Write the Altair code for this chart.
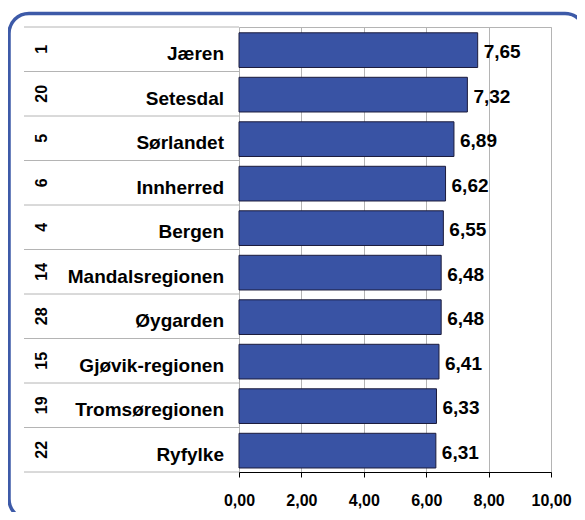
import altair as alt
import pandas as pd

ranks = ["1", "20", "5", "6", "4", "14", "28", "15", "19", "22"]
regions = ["Jæren", "Setesdal", "Sørlandet", "Innherred", "Bergen",
           "Mandalsregionen", "Øygarden", "Gjøvik-regionen", "Tromsøregionen", "Ryfylke"]
values = [7.65, 7.32, 6.89, 6.62, 6.55, 6.48, 6.48, 6.41, 6.33, 6.31]
x_ticks = [0, 2, 4, 6, 8, 10]

df = pd.DataFrame({"rank": ranks, "region": regions, "value": values,
                   "pos": list(range(len(regions)))})
lines = pd.DataFrame({"b": list(range(len(regions) + 1))})
frame_df = pd.DataFrame({"a": [0]})

FONT = "Liberation Sans"
GREY = "#b4b4b4"
BLUE = "#3953a4"
FRAME = "#3d5aa8"

xs = alt.Scale(domain=[0, 10], nice=False, zero=True)
ys = alt.Scale(domain=[0, 10], reverse=True, nice=False, zero=False)
xaxis = alt.Axis(values=x_ticks, title="", grid=True, labelFlush=False,
                 labelExpr="replace(format(datum.value, '.2f'), '.', ',')")

base = alt.Chart(df).transform_calculate(
    mid="datum.pos + 0.5",
    top="datum.pos + 0.13",
    bot="datum.pos + 0.91",
    zero="0",
    label="replace(format(datum.value, '.2f'), '.', ',')",
)

rules = alt.Chart(lines).mark_rule(color=GREY, strokeWidth=1).encode(
    y=alt.Y("b:Q", scale=ys, axis=None),
    x=alt.value(-215),
    x2=alt.value(0),
)

bars = base.mark_rect(color=BLUE, stroke="#1c1c3c", strokeWidth=1).encode(
    x=alt.X("zero:Q", scale=xs, axis=xaxis),
    x2="value:Q",
    y=alt.Y("top:Q", scale=ys, axis=None),
    y2="bot:Q",
)

vals = base.mark_text(align="left", baseline="alphabetic", dx=6, dy=9,
                      font=FONT, fontSize=19, fontWeight="bold", color="black").encode(
    x=alt.X("value:Q", scale=xs, axis=xaxis),
    y=alt.Y("mid:Q", scale=ys, axis=None),
    text="label:N",
)

names = base.mark_text(align="right", baseline="alphabetic", dy=11,
                       font=FONT, fontSize=19, fontWeight="bold", color="black").encode(
    x=alt.value(-15),
    y=alt.Y("mid:Q", scale=ys, axis=None),
    text="region:N",
)

rank_t = base.mark_text(align="center", baseline="middle", angle=270,
                        font=FONT, fontSize=16, fontWeight="bold", color="black").encode(
    x=alt.value(-197),
    y=alt.Y("mid:Q", scale=ys, axis=None),
    text="rank:N",
)

frame = alt.Chart(frame_df).mark_rect(fillOpacity=0, stroke=FRAME, strokeWidth=3.5,
                                      cornerRadius=20).encode(
    x=alt.value(-230), x2=alt.value(346),
    y=alt.value(-13.5), y2=alt.value(492),
)

chart = alt.layer(rules, bars, vals, names, rank_t, frame).properties(
    width=312, height=445,
    padding={"left": 231, "top": 19, "right": 26, "bottom": 40},
    autosize=alt.AutoSizeParams(type="none"),
    background="white",
).configure_view(
    stroke=GREY, strokeWidth=1,
).configure_axis(
    domainColor="black", tickColor="black", gridColor=GREY, tickSize=5,
    labelFont=FONT, labelFontSize=16, labelFontWeight="bold", labelColor="black",
    labelPadding=15,
)

chart.save("out.html", embed_options={"renderer": "svg", "actions": False})
